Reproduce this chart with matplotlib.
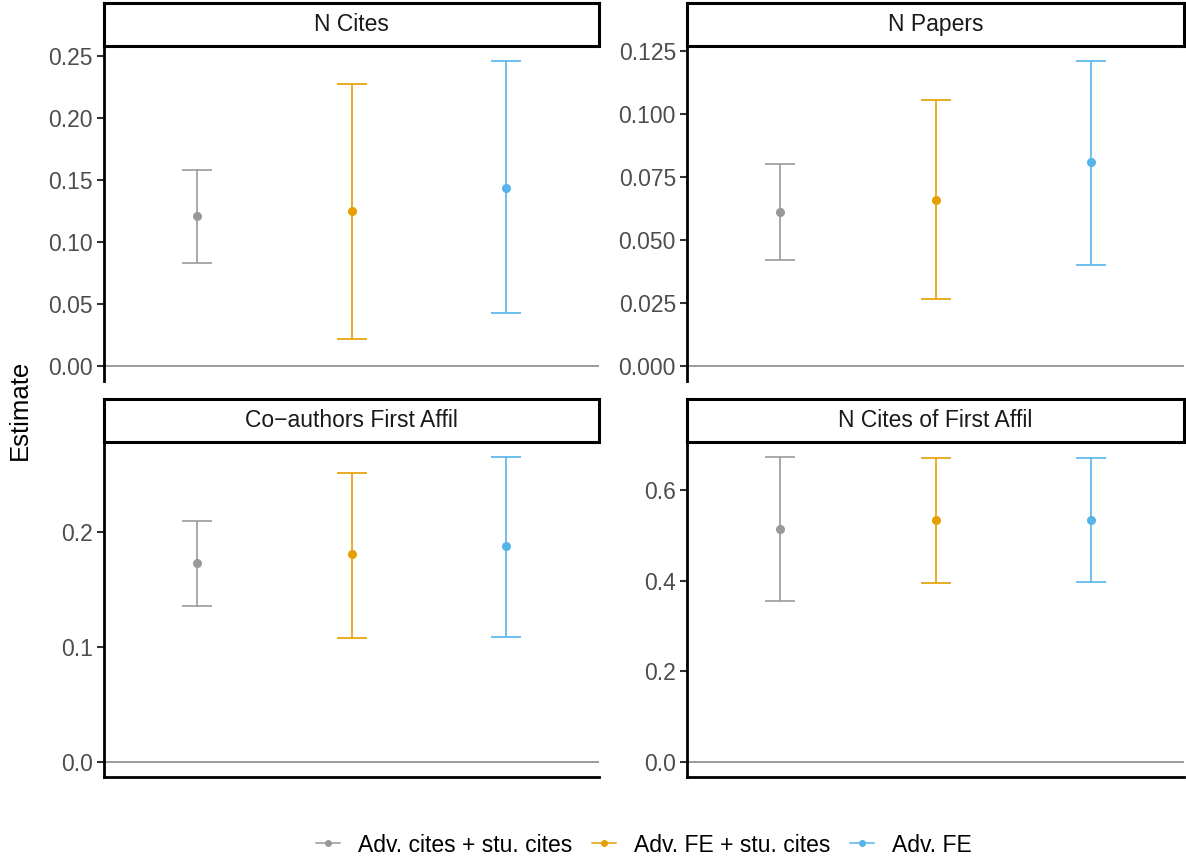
import matplotlib
matplotlib.use("Agg")
import matplotlib.pyplot as plt
from matplotlib.lines import Line2D
import numpy as np

plt.rcParams['font.family'] = ['Liberation Sans', 'DejaVu Sans']

# data
panels = ["N Cites", "N Papers", "Co\u2212authors First Affil", "N Cites of First Affil"]
models = ["Adv. cites + stu. cites", "Adv. FE + stu. cites", "Adv. FE"]
colors = ["#999999", "#E69F00", "#56B4E9"]

est = [[0.121, 0.125, 0.144],
       [0.061, 0.066, 0.081],
       [0.173, 0.181, 0.188],
       [0.515, 0.535, 0.535]]
lo = [[0.083, 0.022, 0.043],
      [0.042, 0.0265, 0.040],
      [0.136, 0.108, 0.109],
      [0.356, 0.396, 0.398]]
hi = [[0.158, 0.228, 0.246],
      [0.080, 0.1055, 0.121],
      [0.2095, 0.252, 0.2655],
      [0.673, 0.671, 0.671]]

yticks = [[0, 0.05, 0.10, 0.15, 0.20, 0.25],
          [0, 0.025, 0.05, 0.075, 0.10, 0.125],
          [0.0, 0.1, 0.2],
          [0.0, 0.2, 0.4, 0.6]]
yfmt = ["{:.2f}", "{:.3f}", "{:.1f}", "{:.1f}"]

W, H = 1186, 863
fig = plt.figure(figsize=(W / 100, H / 100), dpi=100)

# pixel boxes (left, right, top, bottom)
boxes = [(104, 599, 46, 381), (687, 1184, 46, 381),
         (104, 599, 442, 777), (687, 1184, 442, 777)]
strip_h = 43

def to_fig(l, r, t, b):
    return [l / W, 1 - b / H, (r - l) / W, (b - t) / H]

for i, (l, r, t, b) in enumerate(boxes):
    ax = fig.add_axes(to_fig(l, r, t, b))
    ax.axhline(0, color="#808080", lw=1.1, zorder=1)
    x = np.arange(1, 4)
    for j in range(3):
        ax.errorbar(x[j], est[i][j],
                    yerr=[[est[i][j] - lo[i][j]], [hi[i][j] - est[i][j]]],
                    fmt="o", color=colors[j], ms=5.5, lw=1.2, capsize=11,
                    capthick=1.2, zorder=3)
    ymin = min(0, min(lo[i]))
    ymax = max(hi[i])
    pad = 0.05 * (ymax - ymin)
    ax.set_ylim(ymin - pad, ymax + pad)
    ax.set_xlim(0.4, 3.6)
    ax.set_yticks(yticks[i])
    ax.set_yticklabels([yfmt[i].format(v) for v in yticks[i]])
    ax.tick_params(axis="y", labelsize=16.5, labelcolor="#4D4D4D",
                   color="#333333", length=5, width=1.5, pad=3)
    ax.set_xticks([])
    for s in ["top", "right"]:
        ax.spines[s].set_visible(False)
    ax.spines["left"].set_linewidth(2.0)
    if i < 2:
        ax.spines["bottom"].set_visible(False)
    else:
        ax.spines["bottom"].set_linewidth(2.0)

    # facet strip
    sax = fig.add_axes(to_fig(l, r, t - strip_h, t))
    sax.set_xticks([])
    sax.set_yticks([])
    for s in sax.spines.values():
        s.set_linewidth(2.2)
        s.set_color("black")
    sax.text(0.5, 0.5, panels[i], ha="center", va="center",
             fontsize=16.5, color="#1A1A1A", transform=sax.transAxes)

fig.text(20 / W, 1 - 410 / H, "Estimate", rotation=90, ha="center",
         va="center", fontsize=18.5)

handles = [Line2D([0], [0], color=c, marker="o", ms=4, lw=1.1) for c in colors]
fig.legend(handles, models, loc="center", bbox_to_anchor=(644 / W, 1 - 845 / H),
           ncol=3, frameon=False, fontsize=16.5, handlelength=1.04,
           columnspacing=0.85, handletextpad=0.8)

fig.savefig("out.png", dpi=100)
